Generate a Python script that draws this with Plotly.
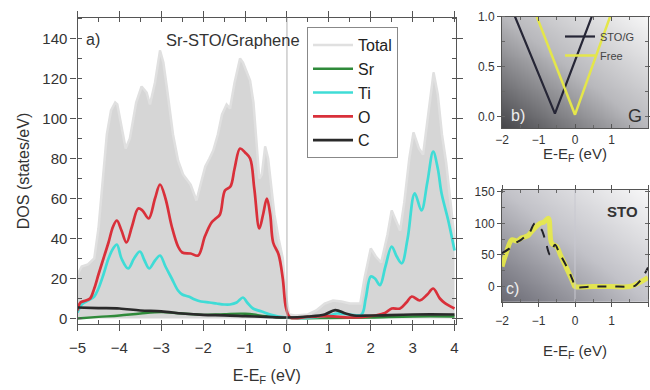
import numpy as np
import plotly.graph_objects as go

# ---------------- main panel (a) data ----------------
e_total = [-5.0, -4.9, -4.75, -4.6, -4.5, -4.4, -4.3, -4.2, -4.1, -4.05, -3.95, -3.85, -3.75, -3.6,
           -3.47, -3.35, -3.27, -3.15, -3.03, -2.95, -2.87, -2.72, -2.6, -2.48, -2.3, -2.16, -2.05,
           -1.95, -1.85, -1.76, -1.65, -1.55, -1.44, -1.36, -1.25, -1.12, -1.05, -0.96, -0.88, -0.8,
           -0.74, -0.66, -0.6, -0.52, -0.45, -0.38, -0.3, -0.2, -0.1, -0.03, 0.05, 0.2, 0.5, 0.7,
           0.9, 1.1, 1.3, 1.5, 1.75, 1.85, 2.0, 2.12, 2.25, 2.4, 2.5, 2.6, 2.7, 2.8, 2.92, 3.02,
           3.15, 3.25, 3.35, 3.5, 3.6, 3.7, 3.8, 3.9, 4.0]
dos_total = [22, 26, 27, 30, 45, 70, 92, 104, 108, 107, 96, 85, 90, 108,
             116, 113, 107, 118, 134, 128, 116, 92, 79, 72, 67, 59, 68,
             76, 80, 84, 92, 102, 107, 105, 118, 130, 128, 123, 119, 108,
             90, 70, 72, 86, 80, 68, 52, 40, 30, 12, 2, 1.5, 2, 4,
             7.5, 9, 8.5, 7.5, 7.5, 20, 35, 31, 28, 42, 54, 49, 44, 58, 80, 93,
             85, 82, 98, 123, 112, 92, 78, 60, 40]

e_o = [-5.0, -4.93, -4.8, -4.7, -4.6, -4.5, -4.38, -4.26, -4.15, -4.06, -3.95, -3.83, -3.7, -3.55,
       -3.45, -3.3, -3.15, -3.03, -2.9, -2.75, -2.6, -2.5, -2.3, -2.12, -1.96, -1.8, -1.7, -1.6,
       -1.48, -1.35, -1.25, -1.12, -1.0, -0.88, -0.78, -0.66, -0.57, -0.48, -0.4, -0.33, -0.2,
       -0.1, -0.02, 0.08, 0.5, 1.0, 1.5, 1.9, 2.1, 2.34, 2.5, 2.7, 2.85, 2.98, 3.17, 3.35, 3.49,
       3.65, 3.77, 4.0]
dos_o = [4, 8, 9, 10, 15, 22, 30, 38, 46, 49, 44, 38, 46, 55,
         54, 50, 60, 67, 60, 46, 36, 33, 32.5, 31.5, 41, 48, 50, 52,
         64, 66, 75, 85, 83, 80, 65, 45, 52, 60, 52, 38, 32,
         20, 5, 0.5, 0.8, 1.2, 0.5, 1, 1.5, 2.7, 5, 5, 8, 11, 9, 12, 15,
         10, 7.7, 5]

e_ti = [-5.0, -4.9, -4.75, -4.6, -4.5, -4.38, -4.26, -4.15, -4.06, -3.95, -3.79, -3.65, -3.51, -3.4,
        -3.29, -3.15, -3.03, -2.9, -2.75, -2.6, -2.5, -2.35, -2.2, -2.05, -1.85, -1.68, -1.5, -1.36,
        -1.2, -1.05, -0.95, -0.81, -0.6, -0.4, -0.2, 0.0, 0.5, 1.0, 1.2, 1.5, 1.78, 1.88, 2.0, 2.1,
        2.22, 2.35, 2.5, 2.62, 2.74, 2.88, 3.05, 3.21, 3.35, 3.49, 3.6, 3.69, 3.85, 4.0]
dos_ti = [3, 7, 9, 11, 15, 22, 30, 35, 37, 30, 25, 30, 33.5, 29,
          25, 29, 31.5, 26, 20, 14, 12, 11, 9.5, 8.5, 8, 7.5, 7, 7,
          8, 10.5, 8, 5, 3.5, 2, 1, 0.5, 0.3, 1.5, 2.5, 2, 2, 10, 21, 20,
          16.7, 26, 36, 31, 27.6, 40, 62.6, 54, 68, 83.4, 75, 62.6, 49, 34]

e_c = [-5.0, -4.5, -4.0, -3.5, -3.0, -2.5, -2.0, -1.5, -1.0, -0.5, 0.0, 0.5, 0.9, 1.15, 1.4, 1.6,
       2.0, 3.0, 4.0]
dos_c = [5.5, 5.2, 5, 4, 3.6, 2.5, 1.8, 1.6, 1.2, 0.8, 0.5, 1, 2, 4.2, 2.5, 1.5, 1.5, 2, 2]

e_sr = [-5.0, -4.5, -4.0, -3.5, -3.0, -2.5, -2.0, -1.5, -1.0, -0.5, 0.0, 1.0, 2.0, 3.0, 4.0]
dos_sr = [0, 0.8, 1.5, 2.5, 3.2, 2.5, 1.8, 2.2, 2.4, 1.2, 0.3, 0.2, 0.5, 1.0, 1.0]

main_xticks = [-5, -4, -3, -2, -1, 0, 1, 2, 3, 4]
main_yticks = [0, 20, 40, 60, 80, 100, 120, 140]

# ---------------- inset (b) graphene DOS ----------------
e_g_stog = [-1.7, -0.55, 0.5]
dos_g_stog = [1.05, 0.03, 1.04]
e_g_free = [-1.1, 0.0, 1.0]
dos_g_free = [1.05, 0.02, 1.04]

# ---------------- inset (c) STO DOS ----------------
e_s_stog = [-2.0, -1.8, -1.64, -1.5, -1.37, -1.25, -1.1, -1.0, -0.91, -0.8, -0.68, -0.55, -0.45,
            -0.37, -0.18, -0.05, 0.0, 0.5, 1.0, 1.5, 1.64, 1.8, 1.87, 2.0]
dos_s_stog = [52.7, 60, 68.5, 73, 79, 85, 100, 95, 89.6, 70, 50, 66, 56,
              47, 26, 8, 0, 0, 0, 0, 1, 10, 16, 30]
e_s_free = [-2.0, -1.9, -1.73, -1.6, -1.46, -1.3, -1.19, -0.96, -0.85, -0.73, -0.64, -0.5, -0.4,
            -0.27, -0.12, -0.03, 0.0, 0.5, 1.0, 1.5, 1.82, 2.0]
dos_s_free = [31.6, 50, 74, 72, 77, 80, 87, 100, 102, 108, 68.5, 63, 50,
              34, 15, 3, 0, 0, 0, 0, 8, 14]

inset_xticks = [-2, -1, 0, 1, 2]
b_yticks = [0.0, 0.5, 1.0]
b_yticklabels = ["0.0", "0.5", "1.0"]
c_yticks = [0, 50, 100, 150]

FONT = "Liberation Sans, Arial, sans-serif"
TXT = "#333333"
W, H = 650, 390


def px(x):
    return x / W


def py(y):
    return 1 - y / H


fig = go.Figure()

# --- main panel traces ---
fig.add_trace(go.Scatter(x=e_total, y=dos_total, mode="lines", fill="tozeroy",
                         fillcolor="#d6d6d6", line=dict(color="#d6d6d6", width=1),
                         showlegend=False, hoverinfo="skip"))
fig.add_trace(go.Scatter(x=e_total, y=dos_total, mode="lines", name="Total",
                         line=dict(color="#e0e0e0", width=2.5)))
fig.add_trace(go.Scatter(x=e_sr, y=dos_sr, mode="lines", name="Sr", line_shape="spline",
                         line=dict(color="#2f8a3a", width=2.4)))
fig.add_trace(go.Scatter(x=e_ti, y=dos_ti, mode="lines", name="Ti", line_shape="spline",
                         line=dict(color="#3fdcd6", width=2.7)))
fig.add_trace(go.Scatter(x=e_o, y=dos_o, mode="lines", name="O", line_shape="spline",
                         line=dict(color="#d9303a", width=2.7)))
fig.add_trace(go.Scatter(x=e_c, y=dos_c, mode="lines", name="C", line_shape="spline",
                         line=dict(color="#2a2a2a", width=2.7)))

# --- inset b background and traces ---
bx = np.linspace(-2.1, 2.1, 43)
by = np.linspace(-0.17, 1.05, 43)
BU, BV = np.meshgrid((bx + 2) / 4, (by + 0.116) / 1.116)
fig.add_trace(go.Heatmap(x=bx, y=by, z=BU + BV, xaxis="x2", yaxis="y2", zsmooth="best",
                         showscale=False, hoverinfo="skip",
                         colorscale=[[0, "#3e3e42"], [0.5, "#b8b8bc"], [1, "#fbfbfb"]]))
fig.add_trace(go.Scatter(x=e_g_stog, y=dos_g_stog, mode="lines", name="STO/G",
                         xaxis="x2", yaxis="y2", legend="legend2",
                         line=dict(color="#262636", width=2.2)))
fig.add_trace(go.Scatter(x=e_g_free, y=dos_g_free, mode="lines", name="Free",
                         xaxis="x2", yaxis="y2", legend="legend2",
                         line=dict(color="#e4e64a", width=2.5)))

# --- inset c background and traces ---
cx = np.linspace(-2.1, 2.1, 43)
cy = np.linspace(-30, 160, 43)
CU, CV = np.meshgrid((cx + 2) / 4, (cy + 24) / 176.7)
fig.add_trace(go.Heatmap(x=cx, y=cy, z=CU + CV, xaxis="x3", yaxis="y3", zsmooth="best",
                         showscale=False, hoverinfo="skip",
                         colorscale=[[0, "#64646e"], [0.5, "#c2c2c8"], [1, "#fbfbfb"]]))
fig.add_trace(go.Scatter(x=e_s_free, y=dos_s_free, mode="lines", showlegend=False,
                         xaxis="x3", yaxis="y3", line_shape="spline",
                         line=dict(color="rgba(232,234,70,0.9)", width=5)))
fig.add_trace(go.Scatter(x=e_s_stog, y=dos_s_stog, mode="lines", showlegend=False,
                         xaxis="x3", yaxis="y3", line_shape="spline",
                         line=dict(color="#222228", width=2, dash="dash")))

axis_common = dict(showline=True, linecolor="#555555", linewidth=1.3, mirror="allticks",
                   ticks="outside", ticklen=6, tickwidth=1.2, tickcolor="#555555",
                   showgrid=False, zeroline=False, automargin=False,
                   tickfont=dict(family=FONT, size=15, color=TXT))
inset_common = {**axis_common, "tickfont": dict(family=FONT, size=12, color=TXT),
                "ticklen": 4, "linewidth": 1}


def note(x, y, text, size, color):
    return dict(x=px(x), y=py(y), xref="paper", yref="paper", text=text, showarrow=False,
                xanchor="center", yanchor="middle", font=dict(size=size, color=color))


fig.update_layout(
    width=W, height=H, margin=dict(l=0, r=0, t=0, b=0, autoexpand=False),
    paper_bgcolor="white", plot_bgcolor="white",
    font=dict(family=FONT, color=TXT),
    xaxis=dict(domain=[px(77.5), px(456)], range=[-5, 4.035], tickvals=main_xticks,
               ticklabelstandoff=4,
               title=dict(text="E-E<sub>F</sub> (eV)", font=dict(size=16), standoff=14),
               minor=dict(dtick=0.5, ticks="inside", ticklen=4, tickcolor="#555555"),
               **axis_common),
    yaxis=dict(domain=[py(324), py(18)], range=[-2.75, 150.25], tickvals=main_yticks,
               title=dict(text="DOS (states/eV)", font=dict(size=16), standoff=8),
               minor=dict(dtick=10, ticks="inside", ticklen=4, tickcolor="#555555"),
               **axis_common),
    xaxis2=dict(domain=[px(502), px(648)], range=[-2, 2], anchor="y2", tickvals=inset_xticks,
                minor=dict(dtick=0.5, ticks="inside", ticklen=3, tickcolor="#666666"),
                **{**inset_common, "ticks": "inside"}),
    yaxis2=dict(domain=[py(128.3), py(16.7)], range=[-0.116, 1.0], anchor="x2",
                tickvals=b_yticks, ticktext=b_yticklabels,
                minor=dict(dtick=0.25, ticks="inside", ticklen=3, tickcolor="#666666"),
                **inset_common),
    xaxis3=dict(domain=[px(502), px(648)], range=[-2, 2], anchor="y3", tickvals=inset_xticks,
                ticklabelstandoff=4,
                title=dict(text="E-E<sub>F</sub> (eV)", font=dict(size=15), standoff=18),
                minor=dict(dtick=0.5, ticks="inside", ticklen=3, tickcolor="#666666"),
                **inset_common),
    yaxis3=dict(domain=[py(301.7), py(190)], range=[-24, 152.7], anchor="x3",
                tickvals=c_yticks,
                minor=dict(dtick=25, ticks="inside", ticklen=3, tickcolor="#666666"),
                **inset_common),
    legend=dict(x=px(307), y=py(27), xanchor="left", yanchor="top",
                bgcolor="white", bordercolor="#888888", borderwidth=1,
                font=dict(family=FONT, size=16, color="#222222"),
                tracegroupgap=0, itemwidth=40),
    legend2=dict(x=px(560), y=py(22), xanchor="left", yanchor="top",
                 bgcolor="rgba(0,0,0,0)", borderwidth=0,
                 font=dict(family=FONT, size=11, color="#444444")),
    shapes=[
        dict(type="line", xref="x", yref="y domain", x0=0, x1=0, y0=0, y1=1,
             line=dict(color="#b0b0b0", width=1), layer="above"),
        dict(type="line", xref="x3", yref="y3 domain", x0=0, x1=0, y0=0, y1=1,
             line=dict(color="#c8c8d0", width=1), layer="above"),
    ],
    annotations=[
        note(93, 40, "a)", 16, TXT),
        note(233, 40, "Sr-STO/Graphene", 16.5, TXT),
        note(518, 115, "b)", 16, "#eeeeee"),
        note(635, 116, "G", 18, "#333333"),
        note(575, 155, "E-E<sub>F</sub> (eV)", 15, TXT),
        note(622, 211, "<b>STO</b>", 15, "#333333"),
        note(512, 288, "c)", 16, "#eeeeee"),
    ],
)

fig.write_html("out.html", config={"displayModeBar": False},
               post_script="document.body.style.margin='0px';document.body.style.padding='0px';")
